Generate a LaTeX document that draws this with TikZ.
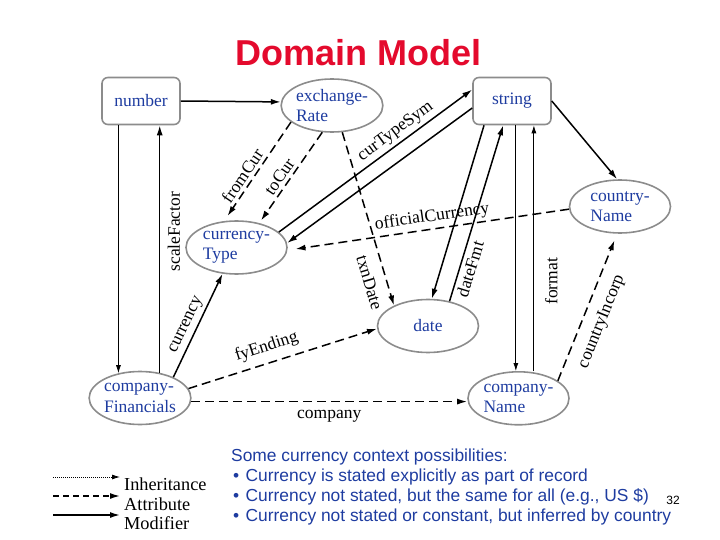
\documentclass[tikz,border=0pt]{standalone}
\usepackage{fontspec}
\setmainfont{Liberation Serif}
\newfontfamily\arialfont{Liberation Sans}
\usepackage{tikz}
\usetikzlibrary{arrows.meta, calc, shapes.geometric}
\definecolor{domRed}{RGB}{228, 10, 45}
\definecolor{domBlue}{RGB}{30, 60, 160}
\definecolor{domGray}{RGB}{140, 140, 140}
\newcommand{\lblfont}{\fontsize{17.5}{20.5}\selectfont}
\newcommand{\legfont}{\fontsize{18.3}{20}\selectfont}
\newcommand{\bul}{\hspace{2pt}•\hspace{1.5pt} }

\begin{document}
\begin{tikzpicture}[x=1pt, y=-1pt,
	box/.style={draw=domGray, line width=1.6pt, rounded corners=6pt, minimum width=78pt, minimum height=47pt, inner sep=0pt, text=domBlue, font=\lblfont},
	oval/.style={ellipse, draw=domGray, line width=1.6pt, minimum width=101pt, minimum height=53pt, inner sep=0pt, align=left, text=domBlue, font=\lblfont},
	modif/.style={line width=1.5pt, -{Latex[length=10pt, width=6pt]}},
	attr/.style={modif, dash pattern=on 9pt off 5pt},
	thinlink/.style={line width=0.8pt, -{Latex[length=8pt, width=5pt]}},
	lbl/.style={font=\lblfont, sloped}
]
	\useasboundingbox (0,0) rectangle (720,540);

	\node[anchor=base, text=domRed, font={\arialfont\bfseries\fontsize{36}{40}\selectfont}] (title) at (358.5,66) {Domain Model};

	% types
	\node[box] (number) at (141,101) {number};
	\node[box] (string) at (512,101) {string};
	\node[oval] (exRate) at (332,105.5) {exchange-\\Rate};
	\node[oval] (ctryName) at (620,206.5) {country-\\Name};
	\node[oval] (curType) at (236.5,247.5) {currency-\\Type};
	\node[oval] (date) at (428,326) {date};
	\node[oval] (coFin) at (140,398) {company-\\Financials};
	\node[oval] (coName) at (518.5,398.3) {company-\\Name};

	% links
	\draw[modif] (number.east) -- (exRate.176);
	\draw[thinlink] (coFin.131 |- number.south) -- (coFin.131);
	\draw[modif] (coFin.52) -- (coFin.52 |- number.south) node[lbl, pos=0.57, below=4pt] {scaleFactor};
	\draw[attr, shorten >=6pt] (exRate.202) -- (curType.115) node[lbl, pos=0.6, above] {fromCur};
	\draw[attr, shorten >=3pt] (exRate.250) -- (curType.47) node[lbl, pos=0.55, above] {toCur};
	\draw[attr] (exRate.291) -- (date.149) node[lbl, pos=0.84, below=7pt] {txnDate};
	\draw[modif] (curType.20) -- (string.164) node[lbl, pos=0.64, above] {curTypeSym};
	\draw[modif] (string.190) -- (curType.5);
	\draw[attr, shorten >=8pt] (ctryName.183) -- (curType.357) node[lbl, pos=0.48, above] {officialCurrency};
	\draw[modif] (string.221) -- (date.82);
	\draw[modif] (date.49) -- (string.250) node[lbl, pos=0.2, below] {dateFmt};
	\draw[thinlink] (string.279) -- (string.279 |- coName.north);
	\draw[thinlink] (string.312 |- coName.north) -- (string.312) node[lbl, pos=0.365, below=7.5pt] {format};
	\draw[modif] (string.east) -- (ctryName.96);
	\draw[attr, shorten >=7pt] (coName.24) -- (ctryName.264) node[lbl, pos=0.45, below=7pt] {countryIncorp};
	\draw[modif] (coFin.32) -- (curType.242) node[lbl, pos=0.46, above] {currency};
	\draw[attr] (coFin.11) -- (date.183) node[lbl, pos=0.44, above=4pt] {fyEnding};
	\draw[attr] (coFin.356) -- (coFin.356 -| coName.west) node[lbl, midway, below=5pt] {company};

	% legend
	\coordinate (inhA) at (53,477);
	\coordinate (inhB) at (120,477);
	\coordinate (attA) at (53,496);
	\coordinate (attB) at (120,496);
	\coordinate (modA) at (53,515);
	\coordinate (modB) at (120,515);
	\draw[thinlink, dash pattern=on 1pt off 1pt] (inhA) -- (inhB);
	\draw[attr, dash pattern=on 6pt off 4pt] (attA) -- (attB);
	\draw[modif] (modA) -- (modB);
	\node[anchor=base west, inner sep=0pt, font=\legfont] (inhTxt) at (124,490) {Inheritance};
	\node[anchor=base west, inner sep=0pt, font=\legfont] (attTxt) at (124,510) {Attribute};
	\node[anchor=base west, inner sep=0pt, font=\legfont] (modTxt) at (124,529) {Modifier};

	\node[anchor=north west, inner sep=0pt, align=left, text=domBlue, font={\arialfont\fontsize{17.4}{20}\selectfont}] (notes) at (231,448.5)
		{Some currency context possibilities:\\
		\bul Currency is stated explicitly as part of record\\
		\bul Currency not stated, but the same for all (e.g., US \$)\\
		\bul Currency not stated or constant, but inferred by country};
	\node[font={\arialfont\fontsize{12}{14}\selectfont}] (pageNo) at (673,500) {32};

\end{tikzpicture}
\end{document}
